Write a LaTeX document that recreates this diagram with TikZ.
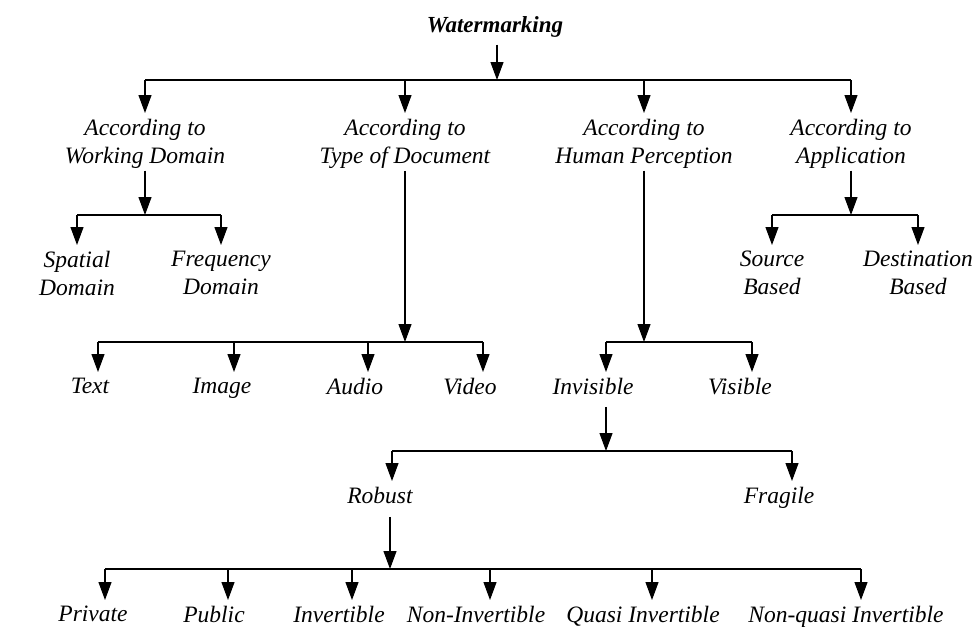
\documentclass[tikz,border=0pt]{standalone}
\usepackage{fontspec}
\setmainfont{Liberation Serif}
\usetikzlibrary{arrows.meta}
\begin{document}
\begin{tikzpicture}[x=1pt,y=-1pt,
  lbl/.style={font=\fontsize{23.5}{28}\selectfont\itshape, align=center,
              inner xsep=1pt, inner ysep=5.5pt, anchor=north},
  ttl/.style={font=\fontsize{23}{26}\selectfont\bfseries\itshape, inner sep=1pt},
  arr/.style={-{Triangle[length=18pt,width=13pt]}, line width=1.1pt},
  bar/.style={line width=1.1pt}]
\useasboundingbox (0,0) rectangle (975,627);

% root
\node[ttl] (wm) at (495,27) {Watermarking};

% first level: classification criteria
\node[lbl] (wd) at (145,113) {According to\\Working Domain};
\node[lbl] (td) at (405,113) {According to\\Type of Document};
\node[lbl] (hp) at (644,113) {According to\\Human Perception};
\node[lbl] (ap) at (851,113) {According to\\Application};

% working domain
\node[lbl] (sp) at (77,245)  {Spatial\\Domain};
\node[lbl] (fr) at (221,245) {Frequency\\Domain};

% application
\node[lbl] (sb) at (772,245) {Source\\Based};
\node[lbl] (db) at (918,245) {Destination\\Based};

% type of document
\node[lbl] (tx) at (90,372)  {Text};
\node[lbl] (im) at (222,372) {Image};
\node[lbl] (au) at (355,372) {Audio};
\node[lbl] (vi) at (470,372) {Video};

% human perception
\node[lbl] (iv) at (593,372) {Invisible};
\node[lbl] (vs) at (740,372) {Visible};

% invisible
\node[lbl] (rb) at (380,481) {Robust};
\node[lbl] (fg) at (779,481) {Fragile};

% robust
\node[lbl] (pr) at (93,600)  {Private};
\node[lbl] (pu) at (214,600) {Public};
\node[lbl] (in) at (339,600) {Invertible};
\node[lbl] (ni) at (476,600) {Non-Invertible};
\node[lbl] (qi) at (643,600) {Quasi Invertible};
\node[lbl] (nq) at (846,600) {Non-quasi Invertible};

% junction levels of the branching bars
\coordinate (b0) at (497,80);
\coordinate (b1) at (145,215);
\coordinate (b2) at (405,342);
\coordinate (b3) at (644,342);
\coordinate (b4) at (851,215);
\coordinate (b5) at (606,451);
\coordinate (b6) at (390,569);

% root -> first level
\draw[arr] ([xshift=2pt,yshift=-6pt]wm.south) -- (b0);
\draw[bar] (wd.north |- b0) -- (ap.north |- b0);
\foreach \n in {wd,td,hp,ap} \draw[arr] (\n.north |- b0) -- (\n.north);

% working domain
\draw[arr] ([yshift=3pt]wd.south) -- (b1);
\draw[bar] (sp.north |- b1) -- (fr.north |- b1);
\foreach \n in {sp,fr} \draw[arr] (\n.north |- b1) -- (\n.north);

% application
\draw[arr] ([yshift=3pt]ap.south) -- (b4);
\draw[bar] (sb.north |- b4) -- (db.north |- b4);
\foreach \n in {sb,db} \draw[arr] (\n.north |- b4) -- (\n.north);

% type of document
\draw[arr] ([yshift=3pt]td.south) -- (b2);
\draw[bar] ([xshift=8pt]tx.north |- b2) -- ([xshift=13pt]vi.north |- b2);
\foreach \n/\d in {tx/8,im/12,au/13,vi/13}
  \draw[arr] ([xshift=\d pt]\n.north |- b2) -- ([xshift=\d pt]\n.north);

% human perception
\draw[arr] ([yshift=3pt]hp.south) -- (b3);
\draw[bar] ([xshift=13pt]iv.north |- b3) -- ([xshift=12pt]vs.north |- b3);
\foreach \n/\d in {iv/13,vs/12}
  \draw[arr] ([xshift=\d pt]\n.north |- b3) -- ([xshift=\d pt]\n.north);

% invisible
\draw[arr] ([xshift=13pt,yshift=-7pt]iv.south) -- (b5);
\draw[bar] ([xshift=12pt]rb.north |- b5) -- ([xshift=13pt]fg.north |- b5);
\foreach \n/\d in {rb/12,fg/13}
  \draw[arr] ([xshift=\d pt]\n.north |- b5) -- ([xshift=\d pt]\n.north);

% robust
\draw[arr] ([xshift=10pt,yshift=-8pt]rb.south) -- (b6);
\draw[bar] ([xshift=12pt]pr.north |- b6) -- ([xshift=15pt]nq.north |- b6);
\foreach \n/\d in {pr/12,pu/14,in/13,ni/14,qi/9,nq/15}
  \draw[arr] ([xshift=\d pt]\n.north |- b6) -- ([xshift=\d pt]\n.north);
\end{tikzpicture}
\end{document}
